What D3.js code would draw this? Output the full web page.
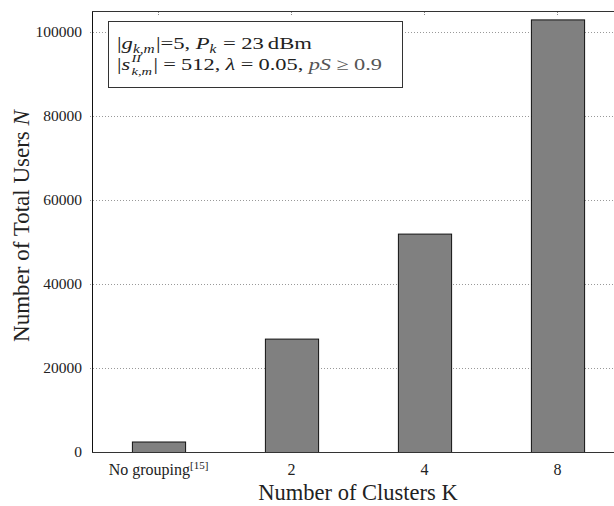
<!DOCTYPE html>
<html><head><meta charset="utf-8">
<script src="https://cdn.jsdelivr.net/npm/d3@7"></script>
<style>body{margin:0;background:#fff}svg{display:block}</style>
</head><body>
<svg id="c" width="614" height="506" font-family="Liberation Serif"></svg>
<script>
const categories = ["No grouping", "2", "4", "8"];
const values = [2500, 27000, 52000, 103000];
const yTicks = [0, 20000, 40000, 60000, 80000, 100000];

const FONT = "Liberation Serif";
const svg = d3.select("#c");
const L = 92, R = 624, T = 11, B = 452;
const x = d3.scaleBand().domain(categories).range([L, R]).paddingInner(0.6).paddingOuter(0.3);
const y = d3.scaleLinear().domain([0, 105000]).range([B, T]);

// grid
svg.append("g").selectAll("line").data(yTicks.filter(d => d > 0)).join("line")
  .attr("x1", L - 2).attr("x2", R).attr("y1", d => y(d) + 0.5).attr("y2", d => y(d) + 0.5)
  .attr("stroke", "#999").attr("stroke-width", 1).attr("stroke-dasharray", "1,2");

// bars
svg.append("g").selectAll("rect").data(values).join("rect")
  .attr("x", (d, i) => x(categories[i]) + 0.5)
  .attr("y", d => y(d) + 0.5)
  .attr("width", x.bandwidth())
  .attr("height", d => B - y(d))
  .attr("fill", "#808080").attr("stroke", "#111").attr("stroke-width", 1);

// frame
svg.append("line").attr("x1", L + 0.5).attr("x2", L + 0.5).attr("y1", T).attr("y2", B + 0.5).attr("stroke", "#111");
svg.append("line").attr("x1", L).attr("x2", R).attr("y1", T + 0.5).attr("y2", T + 0.5).attr("stroke", "#333");
svg.append("line").attr("x1", L).attr("x2", R).attr("y1", B + 0.5).attr("y2", B + 0.5).attr("stroke", "#333");
// top ticks
svg.append("g").selectAll("line").data(categories).join("line")
  .attr("x1", d => x(d) + x.bandwidth() / 2).attr("x2", d => x(d) + x.bandwidth() / 2)
  .attr("y1", T + 1).attr("y2", T + 5).attr("stroke", "#888").attr("stroke-dasharray", "1,1");

// y axis labels
const yAxis = d3.axisLeft(y).tickValues(yTicks).tickSize(0).tickPadding(10).tickFormat(d3.format("d"));
const gy = svg.append("g").attr("transform", `translate(${L},0)`).call(yAxis);
gy.attr("font-family", FONT);
gy.select(".domain").remove();
gy.selectAll("text").attr("font-family", FONT).attr("font-size", 15.5).attr("fill", "#222");

// x axis labels
const xAxis = d3.axisBottom(x).tickSize(0).tickPadding(12);
const gx = svg.append("g").attr("transform", `translate(0,${B})`).call(xAxis);
gx.attr("font-family", FONT);
gx.select(".domain").remove();
gx.selectAll("text").attr("font-family", FONT).attr("font-size", 16).attr("fill", "#222")
  .each(function(d) {
    if (d === "No grouping") {
      d3.select(this).text(d).append("tspan").attr("font-size", 11).attr("dy", -6).text("[15]");
    }
  });

// axis titles
svg.append("text").attr("x", (L + R) / 2).attr("y", 500).attr("text-anchor", "middle")
  .attr("font-family", FONT).attr("font-size", 22.5).attr("fill", "#222").text("Number of Clusters K");
svg.append("text").attr("transform", `translate(29,226) rotate(-90)`).attr("text-anchor", "middle")
  .attr("font-family", FONT).attr("font-size", 23).attr("fill", "#222")
  .call(t => { t.append("tspan").text("Number of Total Users "); t.append("tspan").attr("font-style", "italic").text("N"); });

// legend
svg.append("rect").attr("x", 108.5).attr("y", 21.5).attr("width", 294).attr("height", 66)
  .attr("fill", "#fff").attr("stroke", "#333").attr("stroke-width", 1);

function mathLine(x0, yb, targetW, parts) {
  const g = svg.append("g");
  let cx = 0;
  let stackStart = null, stackW = 0;
  parts.forEach(p => {
    if (p.gap !== undefined && p.t === undefined) { cx += p.gap; return; }
    const fs = p.s || 17;
    let px = cx, py = p.dy || 0;
    if (p.stack) { px = stackStart; }
    const t = g.append("text").attr("x", px).attr("y", py)
      .attr("font-family", FONT).attr("font-size", fs).attr("fill", p.c || "#222")
      .attr("font-style", p.i ? "italic" : "normal").text(p.t);
    const w = t.node().getComputedTextLength();
    if (p.stack) { cx = stackStart + Math.max(stackW, w) + 1; }
    else { stackStart = cx; stackW = w; cx += w + (p.after || 0); }
  });
  const sx = targetW / cx;
  g.attr("transform", `translate(${x0},${yb}) scale(${sx},1)`);
}
const G = 4;
mathLine(117, 49, 195, [
  {t: "|"}, {t: "g", i: 1}, {t: "k,m", i: 1, s: 11.5, dy: 4, after: 1}, {t: "|=5,"}, {gap: G},
  {t: "P", i: 1}, {t: "k", i: 1, s: 11.5, dy: 4, after: 1}, {gap: G}, {t: "="}, {gap: G}, {t: "23"}, {gap: 3}, {t: "dBm"}
]);
mathLine(117, 70, 265, [
  {t: "|"}, {t: "s", i: 1, after: 1}, {t: "II", i: 1, s: 11, dy: -8}, {t: "k,m", i: 1, s: 11, dy: 5, stack: 1},
  {t: "|"}, {gap: G}, {t: "="}, {gap: G}, {t: "512,"}, {gap: G}, {t: "λ", i: 1}, {gap: G}, {t: "="}, {gap: G}, {t: "0.05,"}, {gap: G},
  {t: "pS", i: 1, c: "#555"}, {gap: G}, {t: "≥", c: "#555"}, {gap: G}, {t: "0.9", c: "#555"}
]);
</script>
</body></html>
